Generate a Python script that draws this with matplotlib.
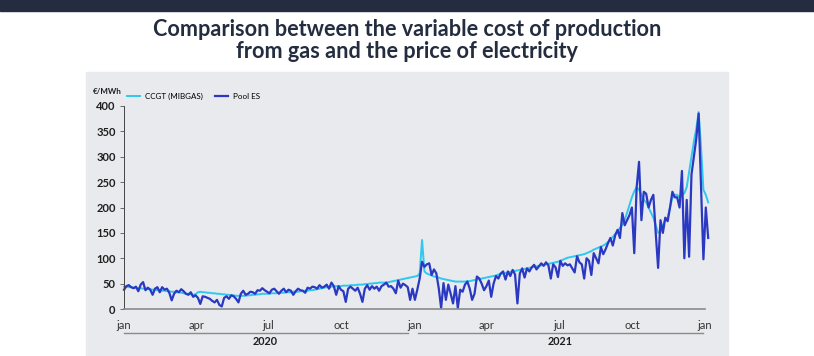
import numpy as np
import matplotlib
matplotlib.use("Agg")
import matplotlib.pyplot as plt
import matplotlib.dates as mdates
from matplotlib.patches import Rectangle

plt.rcParams['font.family'] = ['Lato', 'DejaVu Sans']

# data: one value every 3 days starting 1 Jan 2020 (EUR/MWh)
start_date = np.datetime64('2020-01-01')
step_days = 3

pool_es = [
    38, 45, 47, 43, 41, 44, 35, 48, 53, 37,
    42, 38, 28, 40, 43, 33, 43, 38, 40, 32,
    17, 30, 36, 33, 39, 35, 30, 28, 33, 24,
    27, 22, 10, 25, 24, 22, 20, 16, 13, 18,
    8, 5, 22, 25, 20, 27, 25, 20, 13, 30,
    36, 28, 30, 34, 33, 30, 37, 36, 41, 37,
    34, 31, 38, 40, 35, 30, 36, 40, 33, 38,
    36, 28, 35, 40, 37, 36, 32, 42, 40, 44,
    43, 40, 47, 42, 44, 48, 40, 52, 45, 28,
    45, 38, 35, 14, 40, 44, 40, 36, 42, 30,
    14, 40, 47, 38, 45, 40, 44, 36, 45, 48,
    52, 44, 45, 40, 31, 56, 42, 50, 47, 43,
    18, 40, 18, 38, 60, 93, 83, 88, 90, 67,
    78, 70, 41, 2, 51, 18, 48, 30, 11, 45,
    2, 38, 34, 48, 54, 40, 18, 30, 64, 60,
    50, 37, 45, 56, 24, 50, 65, 60, 70, 74,
    58, 74, 65, 77, 68, 11, 70, 80, 62, 80,
    74, 82, 87, 78, 84, 90, 85, 92, 86, 60,
    88, 82, 63, 95, 85, 90, 86, 88, 80, 72,
    104, 92, 88, 60, 100, 95, 67, 110, 100, 90,
    122, 108, 118, 130, 140, 125, 145, 156, 140, 189,
    165, 175, 185, 200, 110, 240, 290, 175, 231, 227,
    200, 215, 225, 150, 81, 175, 150, 180, 173, 200,
    231, 220, 220, 200, 272, 100, 215, 103, 265, 300,
    335, 385, 240, 98, 200, 140,
]

ccgt_mibgas = [
    44, 44, 43, 43, 42, 42, 41, 41, 40, 40,
    39, 39, 38, 38, 37, 37, 36, 36, 35, 35,
    34, 34, 33, 33, 32, 31, 30, 30, 29, 28,
    29, 33, 34, 33, 33, 32, 32, 31, 31, 30,
    30, 29, 29, 28, 28, 27, 27, 26, 26, 26,
    26, 26, 27, 27, 28, 28, 29, 29, 30, 30,
    30, 30, 31, 31, 31, 32, 32, 32, 33, 33,
    33, 34, 34, 34, 35, 35, 36, 36, 37, 37,
    38, 39, 40, 41, 42, 43, 43, 44, 44, 45,
    45, 45, 46, 46, 46, 47, 47, 47, 48, 48,
    48, 49, 49, 50, 50, 51, 51, 52, 52, 52,
    52, 53, 54, 55, 56, 57, 58, 59, 60, 61,
    62, 63, 64, 65, 70, 136, 74, 70, 68, 66,
    64, 63, 62, 60, 59, 58, 57, 56, 55, 54,
    54, 54, 54, 54, 55, 55, 56, 57, 58, 59,
    60, 61, 62, 63, 64, 65, 66, 68, 69, 70,
    71, 72, 73, 74, 75, 76, 77, 78, 79, 80,
    81, 82, 83, 84, 85, 86, 87, 88, 89, 90,
    91, 92, 93, 95, 97, 99, 101, 102, 103, 104,
    105, 106, 107, 108, 110, 112, 114, 117, 119, 121,
    123, 125, 128, 132, 137, 142, 148, 153, 160, 166,
    175, 190, 205, 220, 232, 240, 235, 225, 215, 210,
    200, 190, 180, 165, 150, 152, 165, 175, 180, 200,
    220, 225, 225, 220, 225, 228, 240, 270, 300, 330,
    355, 388, 320, 235, 225, 210,
]

y_ticks = [0, 50, 100, 150, 200, 250, 300, 350, 400]
years = ['2020', '2021']
month_names = {1: 'jan', 4: 'apr', 7: 'jul', 10: 'oct'}

dates = start_date + np.arange(len(pool_es)) * np.timedelta64(step_days, 'D')

navy = '#232d3f'
cyan = '#2fc8ef'
blue = '#2a38c2'

W, H = 814, 356
fig = plt.figure(figsize=(W / 100, H / 100), dpi=100)
fig.patch.set_facecolor('white')

# top band and grey panel (behind the axes)
fig.patches.append(Rectangle((0, 1 - 11 / H), 1, 11 / H, transform=fig.transFigure,
                             color=navy, zorder=-10))
fig.patches.append(Rectangle((86 / W, 0), (728 - 86) / W, (356 - 72) / H,
                             transform=fig.transFigure, color='#e8eaed', zorder=-10))

fig.text(0.5, 1 - 30 / H, 'Comparison between the variable cost of production',
         ha='center', va='center', fontsize=15.6, fontweight='bold', color=navy)
fig.text(0.5, 1 - 52 / H, 'from gas and the price of electricity',
         ha='center', va='center', fontsize=15.6, fontweight='bold', color=navy)

ax = fig.add_axes([124 / W, 1 - 309 / H, 581 / W, 203 / H])
ax.set_facecolor('none')

ax.plot(dates, ccgt_mibgas, color=cyan, lw=1.4, label='CCGT (MIBGAS)', clip_on=False)
ax.plot(dates, pool_es, color=blue, lw=1.6, label='Pool ES', clip_on=False)

ax.set_xlim(np.datetime64('2020-01-01'), np.datetime64('2022-01-01'))
ax.set_ylim(0, 400)
ax.set_yticks(y_ticks)
ax.tick_params(axis='y', length=3, width=0.6, color='#555555', pad=3,
               labelsize=8, labelcolor='#1f1f1f')
for lab in ax.get_yticklabels():
    lab.set_fontweight('bold')

ax.xaxis.set_major_locator(mdates.MonthLocator(bymonth=[1, 4, 7, 10]))
ax.xaxis.set_major_formatter(plt.FuncFormatter(
    lambda v, pos: month_names[mdates.num2date(v).month]))
ax.tick_params(axis='x', length=0, pad=8, labelsize=8, labelcolor='#333333')

for s in ['top', 'right']:
    ax.spines[s].set_visible(False)
ax.spines['left'].set_color('#444444')
ax.spines['left'].set_linewidth(0.7)
ax.spines['bottom'].set_color('#8a8a8a')
ax.spines['bottom'].set_linewidth(1.2)

fig.text(93 / W, 1 - 91 / H, '€/MWh', fontsize=5.8, fontweight='bold',
         color='#1f1f1f', va='center', ha='left')

ax.legend(loc='center left', bbox_to_anchor=(0.005, 1.045), ncol=2, frameon=False,
          fontsize=5.8, handlelength=1.6, handletextpad=0.6, columnspacing=1.6,
          borderpad=0, borderaxespad=0)

# year brackets under the axis
trans = ax.get_xaxis_transform()
spans = [('2020-01-01', '2020-12-23'), ('2021-01-05', '2021-12-29')]
for year, (a, b) in zip(years, spans):
    a, b = np.datetime64(a), np.datetime64(b)
    ax.plot([a, b], [-0.118, -0.118], transform=trans, color='#8a8a8a', lw=1.0,
            clip_on=False)
    mid = a + (b - a) / 2
    ax.text(mid, -0.158, year, transform=trans, ha='center', va='center',
            fontsize=7.8, fontweight='bold', color='#1f1f1f')

fig.savefig('out.png', dpi=100)
